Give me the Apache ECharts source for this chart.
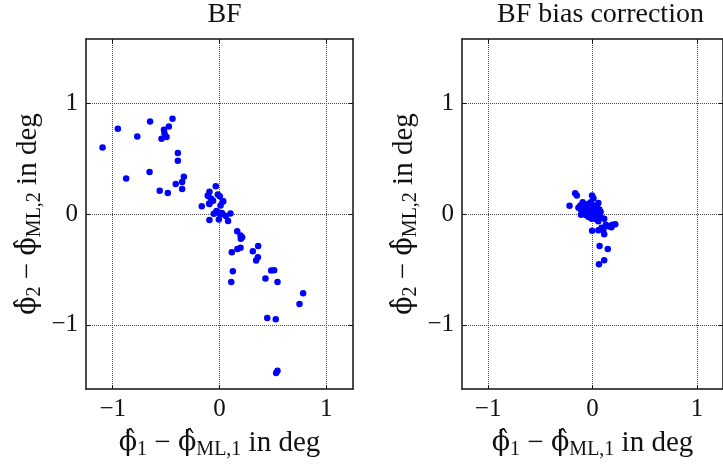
<!DOCTYPE html>
<html>
<head>
<meta charset="utf-8">
<script src="https://cdn.jsdelivr.net/npm/echarts@6/dist/echarts.min.js"></script>
<style>
  html, body { margin: 0; padding: 0; background: #fff; }
  #chart { width: 723px; height: 465px; }
</style>
</head>
<body>
<div id="chart"></div>
<script>
  // tick values on both axes
  const ticks = [-1, 0, 1];

  // BF: [phi1 - phiML1, phi2 - phiML2] in deg
  const bfPoints = [
    [-1.095, 0.60], [-0.952, 0.77], [-0.77, 0.70], [-0.874, 0.32], [-0.65, 0.835],
    [-0.655, 0.38], [-0.56, 0.21], [-0.543, 0.68], [-0.52, 0.76], [-0.515, 0.73],
    [-0.496, 0.695], [-0.474, 0.79], [-0.44, 0.86], [-0.484, 0.19], [-0.39, 0.55],
    [-0.39, 0.48], [-0.41, 0.27], [-0.35, 0.29], [-0.334, 0.337], [-0.35, 0.226],
    [-0.166, 0.07], [-0.094, 0.20], [-0.103, 0.16], [-0.035, 0.25], [-0.094, 0.09],
    [-0.078, 0.137], [-0.06, 0.12], [-0.016, 0.175], [0.003, 0.16], [0.031, 0.113],
    [0.01, 0.077], [-0.053, 0.003], [-0.022, 0.018], [0.0, 0.003], [0.03, -0.003],
    [0.06, -0.018], [0.103, 0.005], [-0.094, -0.054], [-0.006, -0.05], [0.08, -0.063],
    [-0.11, 0.167], [-0.097, 0.095], [-0.028, 0.027], [0.022, 0.009], [0.035, 0.116],
    [0.166, -0.156], [0.197, -0.195], [0.212, -0.21], [0.20, -0.224], [0.362, -0.29],
    [0.312, -0.337], [0.359, -0.39], [0.343, -0.42], [0.197, -0.305], [0.168, -0.317],
    [0.115, -0.346], [0.125, -0.517], [0.11, -0.615], [0.43, -0.582], [0.484, -0.51],
    [0.512, -0.507], [0.543, -0.615], [0.749, -0.812], [0.783, -0.716], [0.447, -0.94],
    [0.527, -0.95], [0.53, -1.436], [0.543, -1.415]
  ];

  // BF bias correction
  const bfcPoints = [
    [-0.166, 0.188], [-0.15, 0.167], [-0.22, 0.074], [-0.004, 0.167], [0.009, 0.143],
    [-0.094, 0.107], [-0.135, 0.056], [-0.11, 0.038], [-0.07, 0.077], [-0.037, 0.092],
    [-0.016, 0.107], [0.056, 0.10], [0.04, 0.063], [0.066, 0.041], [0.025, 0.032],
    [-0.022, 0.038], [-0.053, 0.032], [-0.09, 0.003], [-0.11, -0.006], [-0.037, -0.027],
    [-0.007, -0.042], [0.034, -0.048], [0.056, -0.066], [0.078, -0.027], [0.112, -0.042],
    [0.128, -0.096], [0.15, -0.111], [0.181, -0.12], [0.218, -0.093], [0.19, -0.096],
    [0.087, -0.125], [0.056, -0.147], [0.103, -0.147], [0.112, -0.183], [-0.004, -0.152],
    [0.068, -0.29], [0.146, -0.317], [0.112, -0.418], [0.062, -0.454], [-0.022, 0.003],
    [0.009, 0.077], [-0.116, 0.077], [0.025, -0.012], [-0.06, -0.012], [0.047, 0.018],
    [0.078, 0.018]
  ];

  const titles = ['BF', 'BF bias correction'];

  const font = "'Liberation Serif', 'DejaVu Serif', serif";
  const frame = { show: true, onZero: false, lineStyle: { color: '#111', width: 1.5 } };
  const grid = { type: 'dotted', color: '#444', width: 1 };
  const tick = { inside: true, length: 4, customValues: ticks, lineStyle: { color: '#111' } };
  const rich = {
    a: { fontFamily: font, fontSize: 29, color: '#111', lineHeight: 34, verticalAlign: 'middle' },
    p: { fontFamily: "'DejaVu Serif', serif", fontSize: 27, color: '#111', lineHeight: 34, verticalAlign: 'middle' },
    s: { fontFamily: font, fontSize: 20, color: '#111', lineHeight: 34, verticalAlign: 'bottom' }
  };
  const label = {
    customValues: ticks, fontFamily: font, fontSize: 25, color: '#111', margin: 8,
    formatter: v => String(v).replace('-', '\u2212')
  };
  const axisName = n => '{p|\u03d5\u0302}{s|' + n + '}{a| \u2212 }{p|\u03d5\u0302}{s|ML,' + n + '}{a| in deg}';

  const grids = [
    { left: 86, top: 39, width: 267, height: 353 },
    { left: 462, top: 39, width: 267, height: 353 }
  ];

  const xAxes = [], yAxes = [];
  grids.forEach((g, i) => {
    xAxes.push({
      gridIndex: i, type: 'value', min: -1.25, max: 1.25,
      axisLine: frame, axisTick: tick, axisLabel: label,
      splitLine: { show: true, lineStyle: grid },
      name: axisName(1), nameLocation: 'middle', nameGap: 37, nameTextStyle: { rich: rich }
    });
    xAxes.push({
      gridIndex: i, type: 'value', position: 'top', min: -1.25, max: 1.25,
      axisLine: frame, axisTick: tick, axisLabel: { show: false }, splitLine: { show: false }
    });
    yAxes.push({
      gridIndex: i, type: 'value', min: -1.58, max: 1.58,
      axisLine: frame, axisTick: tick, axisLabel: label,
      splitLine: { show: true, lineStyle: grid },
      name: axisName(2), nameLocation: 'middle', nameGap: 41, nameTextStyle: { rich: rich }
    });
    yAxes.push({
      gridIndex: i, type: 'value', position: 'right', min: -1.58, max: 1.58,
      axisLine: frame, axisTick: tick, axisLabel: { show: false }, splitLine: { show: false }
    });
  });

  const chart = echarts.init(document.getElementById('chart'));
  chart.setOption({
    animation: false,
    title: titles.map((t, i) => ({
      text: t, left: grids[i].left + grids[i].width / 2, top: -4, textAlign: 'center',
      textStyle: { fontFamily: font, fontSize: 28, fontWeight: 'normal', color: '#111' }
    })),
    grid: grids,
    xAxis: xAxes,
    yAxis: yAxes,
    series: [bfPoints, bfcPoints].map((d, i) => ({
      type: 'scatter', xAxisIndex: i * 2, yAxisIndex: i * 2, data: d,
      symbolSize: 6.5, itemStyle: { color: '#0000ff', opacity: 1 }
    }))
  });
</script>
</body>
</html>
